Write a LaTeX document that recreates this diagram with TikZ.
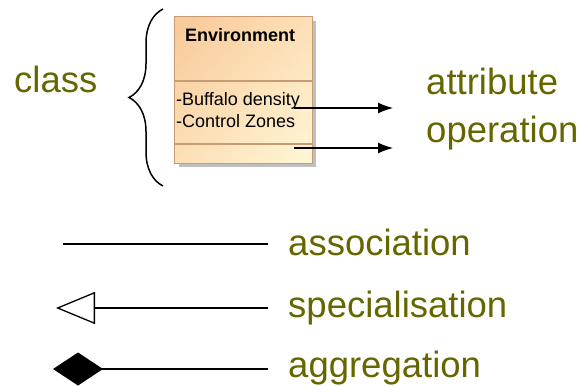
\documentclass[tikz,border=0pt]{standalone}
\usepackage{fontspec}
\setmainfont{Liberation Sans}
\usetikzlibrary{arrows.meta,decorations.pathreplacing,shadings}
\definecolor{olivetext}{RGB}{102,102,0}
\definecolor{classtop}{RGB}{249,200,152}
\definecolor{classbot}{RGB}{255,247,214}
\definecolor{classedge}{RGB}{198,156,116}

\begin{document}
\begin{tikzpicture}[x=1pt,y=-1pt,
	lbl/.style={text=olivetext,font=\fontsize{36.5}{40}\selectfont,inner sep=0pt,anchor=base west},
	member/.style={font=\fontsize{18}{20}\selectfont,inner sep=0pt,anchor=base west},
	uml/.style={line width=1.3pt,shorten >=20pt}]
	\useasboundingbox (0,0) rectangle (585,387);
	\node[minimum width=137pt,minimum height=146pt,inner sep=0pt] (env) at (243.5,90) {};
	\fill[black!25] ([shift={(4pt,-4pt)}]env.north west) rectangle ([shift={(4pt,-4pt)}]env.south east);
	\shade[upper left=classtop,lower right=classbot,upper right=classtop!50!classbot,
		lower left=classtop!50!classbot] (env.north west) rectangle (env.south east);
	\draw[classedge,line width=1.2pt] (env.north west) rectangle (env.south east);
	\draw[classedge,line width=1.2pt] (env.west |- 0,81) -- (env.east |- 0,81);
	\draw[classedge,line width=1.2pt] (env.west |- 0,144) -- (env.east |- 0,144);
	\node[member,font=\bfseries\fontsize{18}{20}\selectfont] (name) at (185,42) {Environment};
	\node[member] (att) at (176,106) {-Buffalo density};
	\node[member] (op) at (176,128) {-Control Zones};
	\draw[decorate,decoration={brace,amplitude=34pt},line width=1.5pt] (163,186) -- (163,9);
	\node[lbl] (cls) at (14,93) {class};
	\node[lbl] (attr) at (426,95) {attribute};
	\node[lbl] (oper) at (426,143) {operation};
	\coordinate (a1) at (294,108);
	\coordinate (a2) at (294,148);
	\draw[-{Latex[length=15pt,width=11pt]},line width=1.3pt,shorten >=33pt] (a1) -- (a1 -| attr.west);
	\draw[-{Latex[length=15pt,width=11pt]},line width=1.3pt,shorten >=33pt] (a2) -- (a2 -| oper.west);
	\node[lbl] (assoc) at (288,255) {association};
	\node[lbl] (spec) at (288,317) {specialisation};
	\node[lbl] (aggr) at (288,377) {aggregation};
	\coordinate (c1) at (63,244);
	\coordinate (c2) at (56,308);
	\coordinate (c3) at (53,369);
	\draw[uml] (c1) -- (c1 -| assoc.west);
	\draw[uml,{Triangle[open,length=39pt,width=32pt]}-] (c2) -- (c2 -| spec.west);
	\draw[uml,{Diamond[length=50pt,width=33pt]}-] (c3) -- (c3 -| aggr.west);
\end{tikzpicture}
\end{document}
